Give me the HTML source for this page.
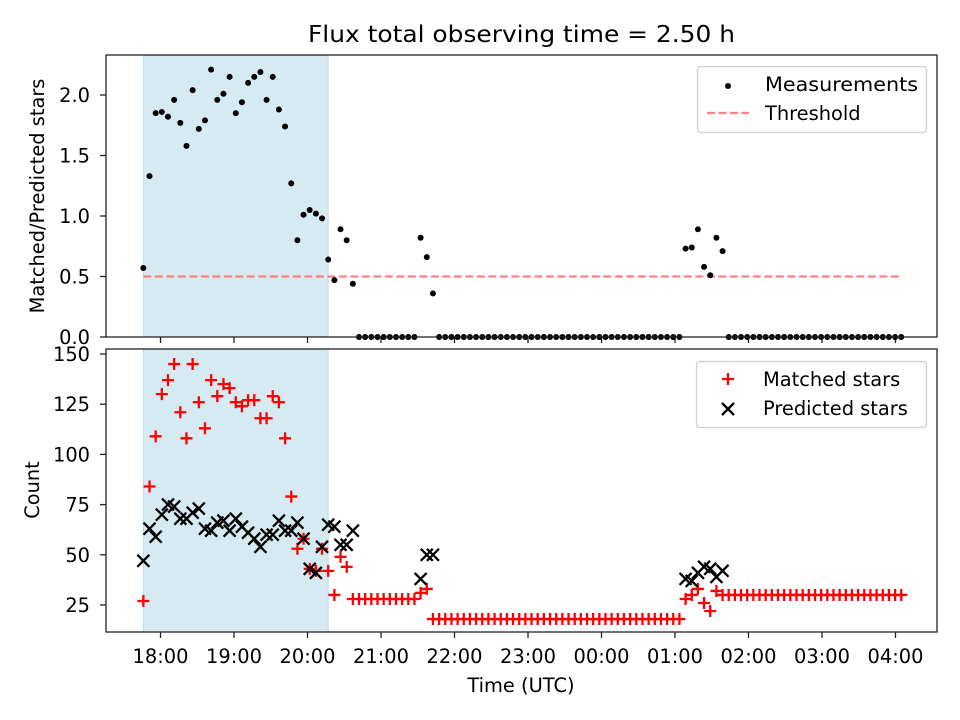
<!DOCTYPE html>
<html><head><meta charset="utf-8"><style>
html,body{margin:0;padding:0;background:#fff;}
svg{display:block;font-family:"DejaVu Sans","Liberation Sans",sans-serif;}
</style></head><body>
<svg id="chart" width="960" height="720" viewBox="0 0 960 720" xmlns="http://www.w3.org/2000/svg">
<rect width="960" height="720" fill="#fff"/>
<text x="308" y="42" font-size="23" textLength="427" lengthAdjust="spacingAndGlyphs">Flux total observing time = 2.50 h</text>
<g id="topPanel"></g>
<g id="botPanel"></g>
</svg>
<script>
// time cadence: start minutes relative to 18:00, step in minutes
const startMin = -14;
const stepMin = 5.03;
const ratio = [0.57,1.33,1.85,1.86,1.82,1.96,1.77,1.58,2.04,1.72,1.79,2.21,1.96,2.01,2.15,1.85,1.94,2.10,2.15,2.19,1.96,2.15,1.88,1.74,1.27,0.80,1.01,1.05,1.02,0.98,0.64,0.47,0.89,0.80,0.44,
0,0,0,0,0,0,0,0,0,0, 0.82,0.66,0.36,
0,0,0,0,0,0,0,0,0,0,0,0,0,0,0,0,0,0,0,0,0,0,0,0,0,0,0,0,0,0,0,0,0,0,0,0,0,0,0,0,
0.73,0.74,0.89,0.58,0.51,0.82,0.71,
0,0,0,0,0,0,0,0,0,0,0,0,0,0,0,0,0,0,0,0,0,0,0,0,0,0,0,0,0];
const matched = [27,84,109,130,137,145,121,108,145,126,113,137,129,135,133,126,124,127,127,118,118,129,126,108,79,53,58,43,42,53,42,30,49,44,28,
28,28,28,28,28,28,28,28,28,28, 31,33,18,
18,18,18,18,18,18,18,18,18,18,18,18,18,18,18,18,18,18,18,18,18,18,18,18,18,18,18,18,18,18,18,18,18,18,18,18,18,18,18,18,
28,30,33,26,22,32,30,
30,30,30,30,30,30,30,30,30,30,30,30,30,30,30,30,30,30,30,30,30,30,30,30,30,30,30,30,30];
const predicted = [47,63,59,70,75,74,68,68,71,73,63,62,66,67,62,68,64,61,58,54,60,60,67,62,62,66,58,43,41,54,65,64,55,55,62,
null,null,null,null,null,null,null,null,null,null, 38,50,50];
const predictedLate = {88:38,89:37,90:41,91:44,92:43,93:39,94:42};
const thresholdValue = 0.5;
const shadeRange = [0, 30];
const xTickLabels = ["18:00","19:00","20:00","21:00","22:00","23:00","00:00","01:00","02:00","03:00","04:00"];
const topTicks = [0.0,0.5,1.0,1.5,2.0];
const botTicks = [25,50,75,100,125,150];

const NS="http://www.w3.org/2000/svg";
function mk(parent,tag,attrs,text){const e=document.createElementNS(NS,tag);for(const k in attrs)e.setAttribute(k,attrs[k]);if(text!==undefined)e.textContent=text;parent.appendChild(e);return e;}
const L=106,R=937;
const T1=55,B1=337,T2=349,B2=632;
const FS=19.4;
function xOfMin(m){return 160.5+m/60*73.5;}
function xOfIdx(i){return xOfMin(startMin+i*stepMin);}
function yTop(v){return 337-v*121;}
function yBot(v){return 605-(v-25)*2.008;}

const topG=document.getElementById('topPanel');
const botG=document.getElementById('botPanel');

function panel(g,T,B,ticks,yf,fmt,label,labelY,labelX,showXLabels){
  const sh=mk(g,'rect',{x:xOfIdx(shadeRange[0]),y:T,width:xOfIdx(shadeRange[1])-xOfIdx(shadeRange[0]),height:B-T,fill:'#d5eaf1',stroke:'#bcdde8','stroke-width':1});
  
  
  ticks.forEach(t=>{
    const y=yf(t);
    const tl=mk(g,'line',{x1:L-6,x2:L,y1:y,y2:y,stroke:'#222','stroke-width':1.3});
    
    
    const tx=mk(g,'text',{x:90,y:y+7,'font-size':FS,'text-anchor':'end'},fmt(t));
    
    
  });
  xTickLabels.forEach((s,k)=>{
    const x=xOfMin(k*60);
    const tl=mk(g,'line',{x1:x,x2:x,y1:B,y2:B+6,stroke:'#222','stroke-width':1.3});
    
    
    if(showXLabels){
      const tx=mk(g,'text',{x:x,y:B+31,'font-size':FS,'text-anchor':'middle'},s);
      
      
    }
  });
  const yl=mk(g,'text',{x:labelX,y:labelY,'font-size':FS,'text-anchor':'middle',transform:`rotate(-90 ${labelX} ${labelY})`},label);
  
  
}
panel(topG,T1,B1,topTicks,yTop,v=>v.toFixed(1),'Matched/Predicted stars',196,44,false);
panel(botG,T2,B2,botTicks,yBot,v=>String(v),'Count',490,39,true);

const th=mk(topG,'line',{x1:xOfIdx(0),x2:xOfIdx(ratio.length-1),y1:yTop(thresholdValue),y2:yTop(thresholdValue),stroke:'#ff8080','stroke-width':2.2,'stroke-dasharray':'8,3.5'});


ratio.forEach((v,i)=>{
  const c=mk(topG,'circle',{cx:xOfIdx(i),cy:yTop(v),r:3,fill:'#000'});
  
  
});
function plus(g,x,y){return mk(g,'path',{d:`M${x-6},${y}H${x+6}M${x},${y-6}V${y+6}`,stroke:'#ff0000','stroke-width':2.3,fill:'none'});}
function cross(g,x,y){return mk(g,'path',{d:`M${x-6},${y-6}L${x+6},${y+6}M${x-6},${y+6}L${x+6},${y-6}`,stroke:'#000','stroke-width':2.3,fill:'none'});}
matched.forEach((v,i)=>{
  const p=plus(botG,xOfIdx(i),yBot(v));
  
  
});
const predAll=predicted.map((v,i)=>[i,v]).concat(Object.keys(predictedLate).map(k=>[+k,predictedLate[k]]));
predAll.forEach(([i,v])=>{
  if(v===null)return;
  const p=cross(botG,xOfIdx(i),yBot(v));
  
  
});
const svg=document.getElementById('chart');
[[T1,B1],[T2,B2]].forEach(([T,B])=>{
  const f=mk(svg,'rect',{x:L,y:T,width:R-L,height:B-T,fill:'none',stroke:'#222','stroke-width':1.3});
  
  
});
const xl=mk(svg,'text',{x:521,y:692,'font-size':FS,'text-anchor':'middle'},'Time (UTC)');


const lg1=mk(svg,'g',{});


mk(lg1,'rect',{x:697.5,y:66.5,width:229,height:66,rx:3,fill:'#fff','fill-opacity':0.8,stroke:'#d0d0d0','stroke-width':1.3});
mk(lg1,'circle',{cx:728,cy:86,r:3,fill:'#000'});
const t1=mk(lg1,'text',{x:765,y:91,'font-size':FS,textLength:153,lengthAdjust:'spacingAndGlyphs'},'Measurements');


mk(lg1,'line',{x1:707,x2:749,y1:113,y2:113,stroke:'#ff8080','stroke-width':2.2,'stroke-dasharray':'8,3.5'});
const t2=mk(lg1,'text',{x:765,y:120,'font-size':FS},'Threshold');


const lg2=mk(svg,'g',{});


mk(lg2,'rect',{x:696.5,y:361.5,width:230,height:66,rx:3,fill:'#fff','fill-opacity':0.8,stroke:'#d0d0d0','stroke-width':1.3});
plus(lg2,728,379);
const t3=mk(lg2,'text',{x:763,y:386,'font-size':FS},'Matched stars');


cross(lg2,728,409);
const t4=mk(lg2,'text',{x:763,y:415,'font-size':FS},'Predicted stars');


</script>
</body></html>
